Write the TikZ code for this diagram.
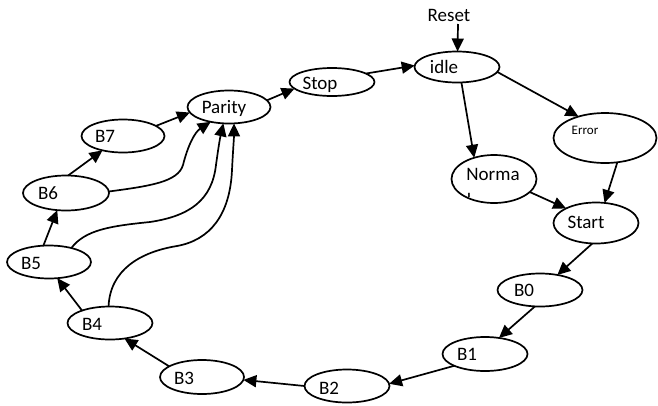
\documentclass[tikz,border=0pt]{standalone}
\usepackage{fontspec}
\setmainfont{Carlito}
\usetikzlibrary{shapes.geometric,arrows.meta}
\begin{document}
\begin{tikzpicture}[x=1pt,y=-1pt,
  st/.style={ellipse,draw,line width=1.7pt,inner sep=0pt,outer sep=0pt},
  txt/.style={inner sep=0pt,font=\fontsize{19}{21}\selectfont},
  arr/.style={line width=1.7pt,-{Triangle[length=13pt,width=12pt]}}]
\useasboundingbox (0,0) rectangle (658,405);
% states
\node[st,minimum width=85pt,minimum height=31pt] (idle) at (457,67) {};
\node[st,minimum width=103pt,minimum height=50pt] (Error) at (605,138) {};
\node[st,minimum width=85pt,minimum height=48pt] (Norma) at (494,179) {};
\node[st,minimum width=85pt,minimum height=41pt] (Start) at (596,223) {};
\node[st,minimum width=85pt,minimum height=33pt] (B0) at (540,290) {};
\node[st,minimum width=85pt,minimum height=34pt] (B1) at (485,354) {};
\node[st,minimum width=85pt,minimum height=33pt] (B2) at (347,386) {};
\node[st,minimum width=84pt,minimum height=34pt] (B3) at (202,377) {};
\node[st,minimum width=85pt,minimum height=33pt] (B4) at (110,323) {};
\node[st,minimum width=84pt,minimum height=33pt] (B5) at (49,262) {};
\node[st,minimum width=86pt,minimum height=35pt] (B6) at (66,193) {};
\node[st,minimum width=83pt,minimum height=33pt] (B7) at (123,136) {};
\node[st,minimum width=83pt,minimum height=33pt] (Parity) at (229,107) {};
\node[st,minimum width=85pt,minimum height=28pt] (Stop) at (332,82) {};
% texts
\node[txt] (tReset) at (449,15) {Reset};
\node[txt] (tidle) at (444,67) {idle};
\node[txt,font=\fontsize{13}{15}\selectfont] (tError) at (585,130) {Error};
\node[txt] (tNorma) at (493,174) {Norma};
\begin{scope}
\clip (494,179) ellipse [x radius=41pt,y radius=22pt];
\node[txt] (tl) at (469,200) {l};
\end{scope}
\node[txt] (tStart) at (586,222) {Start};
\node[txt] (tB0) at (524,290) {B0};
\node[txt] (tB1) at (467,354) {B1};
\node[txt] (tB2) at (329,388) {B2};
\node[txt] (tB3) at (184,378) {B3};
\node[txt] (tB4) at (92,324) {B4};
\node[txt] (tB5) at (31,263) {B5};
\node[txt] (tB6) at (48,193) {B6};
\node[txt] (tB7) at (105,136) {B7};
\node[txt] (tParity) at (224,108) {Parity};
\node[txt] (tStop) at (320,85) {Stop};
% connectors
\coordinate (r) at (458,24);
\draw[arr] (r) -- (idle.88);
\draw[arr] (Stop.14) -- (idle.178);
\draw[arr] (Parity.10) -- (Stop.190);
\draw[arr] (idle.-74) -- (Norma.133);
\draw[arr] (idle.-7) -- (Error.141);
\draw[arr] (Error.-63) -- (Start.67);
\draw[arr] (Norma.-20) -- (Start.154);
\draw[arr] (Start.-100) -- (B0.41);
\draw[arr] (B0.-107) -- (B1.49);
\draw[arr] (B1.201) -- (B2.3);
\draw[arr] (B2.180) -- (B3.-4);
\draw[arr] (B3.162) -- (B4.-47);
\draw[arr] (B4.156) -- (B5.-63);
\draw[arr] (B5.109) -- (B6.-117);
\draw[arr] (B6.83) -- (B7.-145);
\draw[arr] (B7.17) -- (Parity.188);
\draw[arr] (B6.2) .. controls (150,186) and (178,182) .. (183,165)
  .. controls (188,145) and (195,132) .. (Parity.219);
\draw[arr] (B5.32) .. controls (85,230) and (110,226) .. (150,222)
  .. controls (190,216) and (212,200) .. (216,165)
  .. controls (218,150) and (220,138) .. (Parity.251);
\draw[arr] (B4.95) .. controls (110,270) and (140,252) .. (177,246)
  .. controls (210,240) and (230,215) .. (232,170)
  .. controls (233,150) and (234,138) .. (Parity.287);
\end{tikzpicture}
\end{document}
